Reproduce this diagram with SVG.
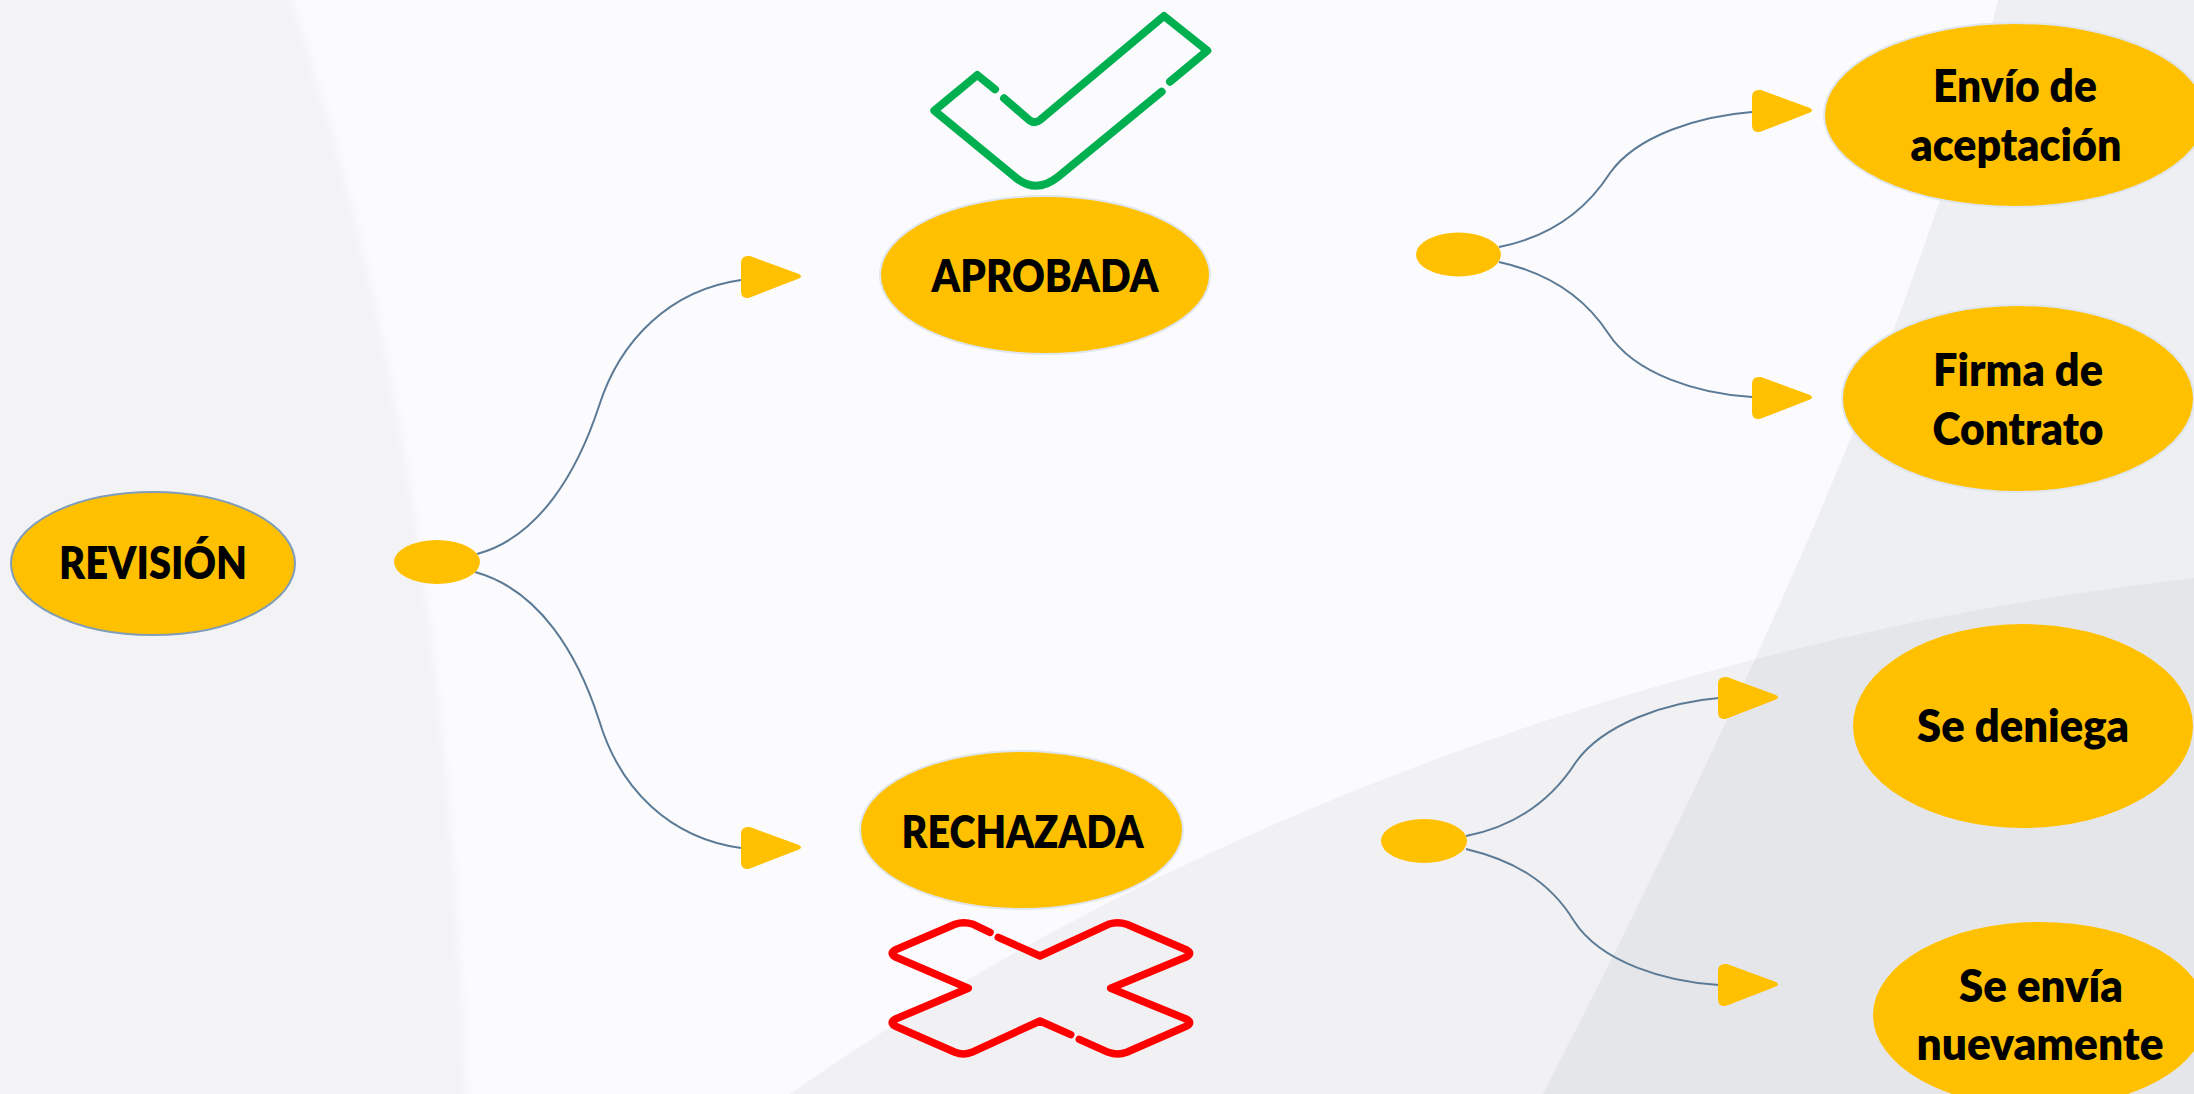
<svg xmlns="http://www.w3.org/2000/svg" xmlns:xlink="http://www.w3.org/1999/xlink" width="2194" height="1094" viewBox="0 0 2194 1094">
<style>
.n{fill:#FFC000;stroke:#DFE6EE;stroke-width:2}
.d{fill:#FFC000}
.t{font-family:"Lato","Carlito","Liberation Sans",sans-serif;font-weight:800;font-size:46px;fill:#000;text-anchor:middle}
.c{fill:none;stroke:#5B7A96;stroke-width:2}
.check{fill:none;stroke:#00B050;stroke-width:8;stroke-linecap:round;stroke-linejoin:round}
.cross{fill:none;stroke:#FF0000;stroke-width:7.500;stroke-linecap:round;stroke-linejoin:round}
</style>
<defs>
<path id="arrow" class="d" d="M0 -14Q0 -22 9 -21L58 -3Q62 -0.500 58 1.500L9 20.500Q0 23 0 14Z"/>
<clipPath id="swooshClip"><path d="M790 1094C1150 840 1650 640 2194 578V1094Z"/></clipPath>
<filter id="soft" x="-5%" y="-5%" width="110%" height="110%"><feGaussianBlur stdDeviation="4"/></filter>
</defs>
<g id="background">
<rect width="2194" height="1094" fill="#FBFBFD"/>
<path d="M-20 -20H284C380 260 450 600 466 1114H-20Z" fill="#F3F3F6" filter="url(#soft)"/>
<path d="M790 1094C1150 840 1650 640 2194 578V1094Z" fill="#F1F1F3"/>
<path id="rightBand" d="M1998 0C1948 207 1838 520 1543 1094H2194V0Z" fill="#EEEFF2"/>
<path d="M1998 0C1948 207 1838 520 1543 1094H2194V0Z" fill="#E5E6EA" clip-path="url(#swooshClip)"/>
</g>
<g id="connectors">
<path class="c" d="M477 554C540 537 578 470 599 406C620 340 670 290 741 280"/>
<path class="c" d="M475 572C540 590 578 655 599 720C620 790 670 838 741 848"/>
<path class="c" d="M1499 247C1545 238 1583 215 1610 173C1637 135 1700 116 1752 112"/>
<path class="c" d="M1499 262C1545 272 1583 295 1608 333C1635 375 1700 394 1752 397"/>
<path class="c" d="M1466 836C1512 827 1549 804 1576 762C1603 724 1667 702 1719 698"/>
<path class="c" d="M1466 849C1512 860 1549 880 1574 921C1601 963 1667 982 1719 985"/>
<use xlink:href="#arrow" x="741" y="277"/>
<use xlink:href="#arrow" x="741" y="848"/>
<use xlink:href="#arrow" x="1752" y="111"/>
<use xlink:href="#arrow" x="1752" y="398"/>
<use xlink:href="#arrow" x="1718" y="698"/>
<use xlink:href="#arrow" x="1718" y="985"/>
</g>
<g id="node-revision">
<ellipse cx="153" cy="563.500" rx="142" ry="71.500" fill="#FFC000" stroke="#7F9DB9" stroke-width="2"/>
<text class="t" x="153" y="579" textLength="188" lengthAdjust="spacingAndGlyphs">REVISIÓN</text>
</g>
<g id="node-split-1"><ellipse class="d" cx="437" cy="562" rx="43" ry="22"/></g>
<g id="node-aprobada">
<ellipse class="n" cx="1045" cy="275" rx="165" ry="79"/>
<text class="t" x="1045" y="292" textLength="227" lengthAdjust="spacingAndGlyphs">APROBADA</text>
</g>
<g id="node-rechazada">
<ellipse class="n" cx="1021.500" cy="830" rx="161.500" ry="79"/>
<text class="t" x="1022.500" y="848" textLength="242" lengthAdjust="spacingAndGlyphs">RECHAZADA</text>
</g>
<g id="node-split-2"><ellipse class="d" cx="1458.500" cy="254.500" rx="42.500" ry="22"/></g>
<g id="node-split-3"><ellipse class="d" cx="1424" cy="841" rx="43" ry="22"/></g>
<g id="node-envio">
<ellipse class="n" cx="2015" cy="115" rx="191" ry="92"/>
<text class="t" x="2015" y="102" textLength="164" lengthAdjust="spacingAndGlyphs">Envío de</text>
<text class="t" x="2016" y="161" textLength="211" lengthAdjust="spacingAndGlyphs">aceptación</text>
</g>
<g id="node-firma">
<ellipse class="n" cx="2018" cy="398.500" rx="176" ry="93.500"/>
<text class="t" x="2018" y="386" textLength="170" lengthAdjust="spacingAndGlyphs">Firma de</text>
<text class="t" x="2018" y="445" textLength="171" lengthAdjust="spacingAndGlyphs">Contrato</text>
</g>
<g id="node-deniega">
<ellipse class="d" cx="2023" cy="726" rx="170" ry="102"/>
<text class="t" x="2023" y="742" textLength="212" lengthAdjust="spacingAndGlyphs">Se deniega</text>
</g>
<g id="node-nuevamente">
<ellipse class="d" cx="2040" cy="1015" rx="167" ry="93"/>
<text class="t" x="2041" y="1002" textLength="164" lengthAdjust="spacingAndGlyphs">Se envía</text>
<text class="t" x="2040" y="1060" textLength="247" lengthAdjust="spacingAndGlyphs">nuevamente</text>
</g>
<g id="icon-check">
<path class="check" d="M995 89.300L977.300 75L934.300 110.700L1016.700 178.300Q1036.700 194 1058.300 176.700L1161.700 91.700"/>
<path class="check" d="M1170 81.700L1207.300 50.700L1164 16L1040 120Q1035 124 1030 120.700L1004 98.300"/>
</g>
<g id="icon-cross">
<path class="cross" d="M990 932.300L973.300 924.300Q963.300 921 955 924.300L895 950Q889.300 953.300 895 956.700L968.300 988.300L895 1019.300Q889.300 1022.700 895 1026L955 1052.300Q963.300 1055.700 971.700 1052.300L1040 1021L1070.700 1034.700"/>
<path class="cross" d="M998.300 937.300L1040 956L1108.300 924.300Q1117.700 921 1126.700 924.300L1186.700 950Q1192.700 953.300 1186.700 956.700L1110.700 988.300L1186.700 1019.300Q1192.700 1022.700 1186.700 1026L1126.700 1052.300Q1117.700 1055.700 1108.300 1052.300L1079.300 1039.300"/>
</g>
</svg>
